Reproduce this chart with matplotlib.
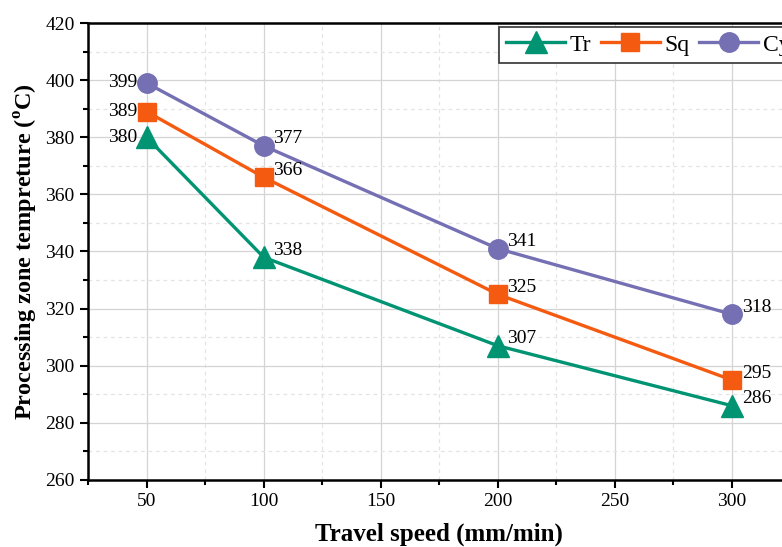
import matplotlib
matplotlib.use('Agg')
from matplotlib import pyplot as plt
from matplotlib.ticker import MultipleLocator

# travel speed vs processing zone temperature, three tool pin shapes
speed = [50, 100, 200, 300]
temp_tr = [380, 338, 307, 286]
temp_sq = [389, 366, 325, 295]
temp_cy = [399, 377, 341, 318]
names = ['Tr', 'Sq', 'Cy']

plt.rcParams['font.family'] = ['Liberation Serif', 'DejaVu Serif']
plt.rcParams['mathtext.fontset'] = 'custom'
plt.rcParams['mathtext.rm'] = 'Liberation Serif:bold'

fig = plt.figure(figsize=(7.82, 5.47), dpi=100)
# right part of the frame is cut off in the original picture
ax = fig.add_axes([88 / 782, 1 - 480 / 547, (790.5 - 88) / 782, (480 - 23) / 547])

styles = [('#009473', '^', 16), ('#f45b10', 's', 13), ('#7570b3', 'o', 14)]
series = [temp_tr, temp_sq, temp_cy]
for vals, name, (c, m, ms) in zip(series, names, styles):
    ax.plot(speed, vals, color=c, marker=m, markersize=ms, lw=2.4, label=name, zorder=3)

# value labels: left of the first point, up-right of the rest
for vals in series:
    for i, (x, y) in enumerate(zip(speed, vals)):
        if i == 0:
            ax.annotate(str(y), (x, y), xytext=(-7, 0), textcoords='offset points',
                        ha='right', va='center', fontsize=14)
        else:
            ax.annotate(str(y), (x, y), xytext=(7, 5), textcoords='offset points',
                        ha='left', va='center', fontsize=14)

ax.set_xlim(25, 325)
ax.set_ylim(260, 420)
ax.xaxis.set_major_locator(MultipleLocator(50))
ax.xaxis.set_minor_locator(MultipleLocator(25))
ax.yaxis.set_major_locator(MultipleLocator(20))
ax.yaxis.set_minor_locator(MultipleLocator(10))
ax.set_xticks([50, 100, 150, 200, 250, 300])

ax.grid(which='major', color='#d4d4d4', lw=0.9, zorder=0)
ax.grid(which='minor', color='#e4e4e4', lw=0.9, ls=(0, (3, 3)), zorder=0)
ax.set_axisbelow(True)

for s in ax.spines.values():
    s.set_linewidth(1.8)
ax.tick_params(which='major', direction='out', length=6, width=1.5, labelsize=14)
ax.tick_params(which='minor', direction='out', length=3.5, width=1.5)

ax.set_xlabel('Travel speed (mm/min)', fontsize=18, fontweight='bold', labelpad=9)
ax.set_ylabel(r'Processing zone tempreture ($^{\mathrm{o}}$C)', fontsize=17.5,
              fontweight='bold', labelpad=4)

# legend box runs past the right edge, as in the original
leg = ax.legend(loc='upper left', bbox_to_anchor=(0.585, 0.991), ncol=3, fontsize=17,
                frameon=True, fancybox=False, edgecolor='#333333', framealpha=1,
                handlelength=2.5, columnspacing=0.4, handletextpad=0.2,
                borderpad=0.3, borderaxespad=0)
leg.get_frame().set_linewidth(1.2)

fig.savefig('out.png', dpi=100)
